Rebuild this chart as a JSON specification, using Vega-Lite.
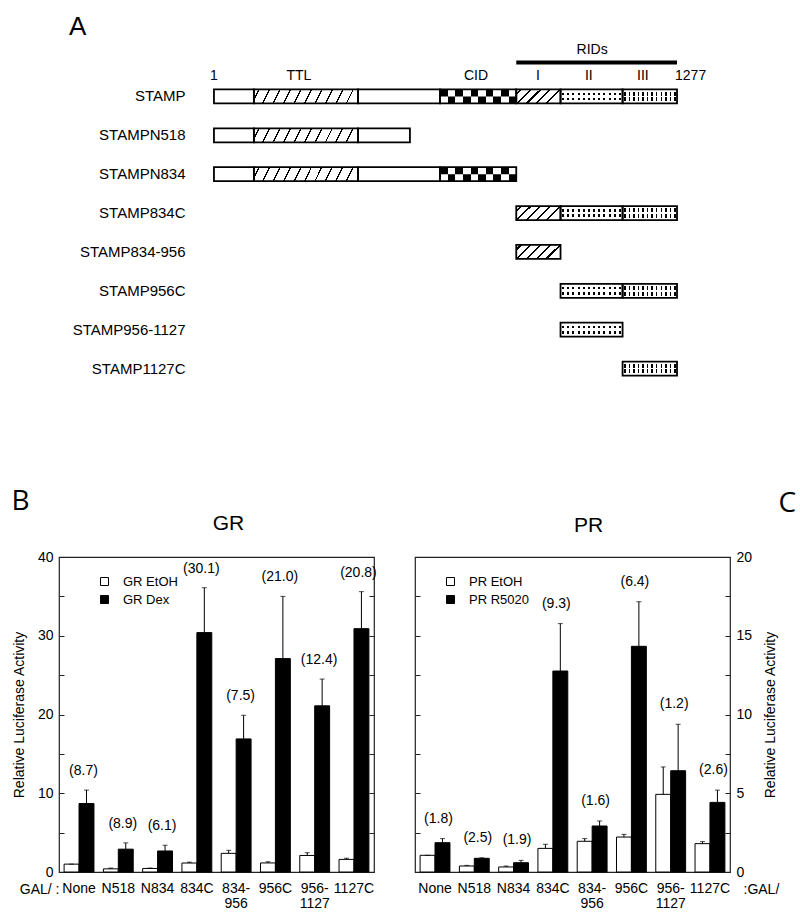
{
  "$schema": "https://vega.github.io/schema/vega-lite/v6.json",
  "padding": {"left": 10, "top": 14, "right": 5, "bottom": 5},
  "background": "white",
  "config": {
    "font": "Liberation Sans",
    "view": {"stroke": null},
    "axis": {"labelFont": "Liberation Sans", "titleFont": "Liberation Sans", "labelColor": "black", "titleColor": "black", "tickColor": "#222", "grid": false},
    "text": {"font": "Liberation Sans", "color": "black"},
    "title": {"font": "Liberation Sans", "color": "black", "fontWeight": "normal"},
    "legend": {"labelFont": "Liberation Sans", "labelColor": "black"}
  },
  "datasets": {
    "seg": [
      {"construct": "STAMP", "domain": "plain", "start": 1, "end": 111},
      {"construct": "STAMP", "domain": "TTL", "start": 111, "end": 398},
      {"construct": "STAMP", "domain": "plain", "start": 398, "end": 624},
      {"construct": "STAMP", "domain": "CID", "start": 624, "end": 834},
      {"construct": "STAMP", "domain": "RID I", "start": 834, "end": 956},
      {"construct": "STAMP", "domain": "RID II", "start": 956, "end": 1127},
      {"construct": "STAMP", "domain": "RID III", "start": 1127, "end": 1277},
      {"construct": "STAMPN518", "domain": "plain", "start": 1, "end": 111},
      {"construct": "STAMPN518", "domain": "TTL", "start": 111, "end": 398},
      {"construct": "STAMPN518", "domain": "plain", "start": 398, "end": 541},
      {"construct": "STAMPN834", "domain": "plain", "start": 1, "end": 111},
      {"construct": "STAMPN834", "domain": "TTL", "start": 111, "end": 398},
      {"construct": "STAMPN834", "domain": "plain", "start": 398, "end": 624},
      {"construct": "STAMPN834", "domain": "CID", "start": 624, "end": 834},
      {"construct": "STAMP834C", "domain": "RID I", "start": 834, "end": 956},
      {"construct": "STAMP834C", "domain": "RID II", "start": 956, "end": 1127},
      {"construct": "STAMP834C", "domain": "RID III", "start": 1127, "end": 1277},
      {"construct": "STAMP834-956", "domain": "RID I", "start": 834, "end": 956},
      {"construct": "STAMP956C", "domain": "RID II", "start": 956, "end": 1127},
      {"construct": "STAMP956C", "domain": "RID III", "start": 1127, "end": 1277},
      {"construct": "STAMP956-1127", "domain": "RID II", "start": 956, "end": 1127},
      {"construct": "STAMP1127C", "domain": "RID III", "start": 1127, "end": 1277}
    ],
    "annot": [
      {"label": "1", "aa": 1},
      {"label": "TTL", "aa": 235},
      {"label": "CID", "aa": 723},
      {"label": "I", "aa": 894},
      {"label": "II", "aa": 1034},
      {"label": "III", "aa": 1183},
      {"label": "1277", "aa": 1277}
    ],
    "rids": [{"label": "RIDs", "start": 834, "end": 1277, "aa": 1043}],
    "gr": [
      {"group": "None", "treat": "GR EtOH", "value": 1.0, "upper": 1.0},
      {"group": "None", "treat": "GR Dex", "value": 8.7, "upper": 10.4, "fold": "(8.7)"},
      {"group": "N518", "treat": "GR EtOH", "value": 0.4, "upper": 0.5},
      {"group": "N518", "treat": "GR Dex", "value": 2.9, "upper": 3.7, "fold": "(8.9)"},
      {"group": "N834", "treat": "GR EtOH", "value": 0.45, "upper": 0.5},
      {"group": "N834", "treat": "GR Dex", "value": 2.67, "upper": 3.4, "fold": "(6.1)"},
      {"group": "834C", "treat": "GR EtOH", "value": 1.14, "upper": 1.25},
      {"group": "834C", "treat": "GR Dex", "value": 30.4, "upper": 36.1, "fold": "(30.1)"},
      {"group": "834-956", "treat": "GR EtOH", "value": 2.37, "upper": 2.75},
      {"group": "834-956", "treat": "GR Dex", "value": 16.9, "upper": 19.9, "fold": "(7.5)"},
      {"group": "956C", "treat": "GR EtOH", "value": 1.15, "upper": 1.3},
      {"group": "956C", "treat": "GR Dex", "value": 27.1, "upper": 35.0, "fold": "(21.0)"},
      {"group": "956-1127", "treat": "GR EtOH", "value": 2.1, "upper": 2.45},
      {"group": "956-1127", "treat": "GR Dex", "value": 21.1, "upper": 24.5, "fold": "(12.4)"},
      {"group": "1127C", "treat": "GR EtOH", "value": 1.6, "upper": 1.75},
      {"group": "1127C", "treat": "GR Dex", "value": 30.9, "upper": 35.6, "fold": "(20.8)"}
    ],
    "pr": [
      {"group": "None", "treat": "PR EtOH", "value": 1.06, "upper": 1.06},
      {"group": "None", "treat": "PR R5020", "value": 1.86, "upper": 2.12, "fold": "(1.8)"},
      {"group": "N518", "treat": "PR EtOH", "value": 0.38, "upper": 0.42},
      {"group": "N518", "treat": "PR R5020", "value": 0.87, "upper": 0.9, "fold": "(2.5)"},
      {"group": "N834", "treat": "PR EtOH", "value": 0.32, "upper": 0.38},
      {"group": "N834", "treat": "PR R5020", "value": 0.59, "upper": 0.74, "fold": "(1.9)"},
      {"group": "834C", "treat": "PR EtOH", "value": 1.5, "upper": 1.76},
      {"group": "834C", "treat": "PR R5020", "value": 12.76, "upper": 15.77, "fold": "(9.3)"},
      {"group": "834-956", "treat": "PR EtOH", "value": 1.95, "upper": 2.12},
      {"group": "834-956", "treat": "PR R5020", "value": 2.92, "upper": 3.24, "fold": "(1.6)"},
      {"group": "956C", "treat": "PR EtOH", "value": 2.22, "upper": 2.39},
      {"group": "956C", "treat": "PR R5020", "value": 14.33, "upper": 17.16, "fold": "(6.4)"},
      {"group": "956-1127", "treat": "PR EtOH", "value": 4.93, "upper": 6.67},
      {"group": "956-1127", "treat": "PR R5020", "value": 6.43, "upper": 9.38, "fold": "(1.2)"},
      {"group": "1127C", "treat": "PR EtOH", "value": 1.8, "upper": 1.93},
      {"group": "1127C", "treat": "PR R5020", "value": 4.42, "upper": 5.2, "fold": "(2.6)"}
    ]
  },
  "spacing": 169,
  "bounds": "flush",
  "vconcat": [
    {
      "width": 671,
      "height": 311,
      "title": {"text": "A", "anchor": "start", "frame": "group", "dx": 10, "offset": -18, "fontSize": 26, "baseline": "alphabetic"},
      "data": {"name": "seg"},
      "layer": [
        {
          "mark": {"type": "bar", "fill": "white", "strokeWidth": 0},
          "encoding": {
            "x": {"field": "start", "type": "quantitative", "scale": {"domain": [-426, 1423], "nice": false, "zero": false}, "axis": null},
            "x2": {"field": "end"},
            "y": {"field": "construct", "type": "nominal", "title": null,
              "scale": {"domain": ["STAMP", "STAMPN518", "STAMPN834", "STAMP834C", "STAMP834-956", "STAMP956C", "STAMP956-1127", "STAMP1127C"], "paddingInner": 0.64, "paddingOuter": 0.32},
              "axis": {"orient": "left", "offset": -126, "domain": false, "ticks": false, "labelPadding": 0, "labelFontSize": 15, "title": null}}
          }
        },
        {
          "transform": [{"filter": "datum.domain === 'TTL'"}],
          "mark": {"type": "bar", "strokeWidth": 0, "fill": {"gradient": "linear", "x1": 0, "y1": 0, "x2": 1, "y2": 0.067, "stops": [
            {"offset": 0, "color": "white"},
            {"offset": 0.043, "color": "white"}, {"offset": 0.043, "color": "black"}, {"offset": 0.057, "color": "black"}, {"offset": 0.057, "color": "white"},
            {"offset": 0.143, "color": "white"}, {"offset": 0.143, "color": "black"}, {"offset": 0.157, "color": "black"}, {"offset": 0.157, "color": "white"},
            {"offset": 0.243, "color": "white"}, {"offset": 0.243, "color": "black"}, {"offset": 0.257, "color": "black"}, {"offset": 0.257, "color": "white"},
            {"offset": 0.343, "color": "white"}, {"offset": 0.343, "color": "black"}, {"offset": 0.357, "color": "black"}, {"offset": 0.357, "color": "white"},
            {"offset": 0.443, "color": "white"}, {"offset": 0.443, "color": "black"}, {"offset": 0.457, "color": "black"}, {"offset": 0.457, "color": "white"},
            {"offset": 0.543, "color": "white"}, {"offset": 0.543, "color": "black"}, {"offset": 0.557, "color": "black"}, {"offset": 0.557, "color": "white"},
            {"offset": 0.643, "color": "white"}, {"offset": 0.643, "color": "black"}, {"offset": 0.657, "color": "black"}, {"offset": 0.657, "color": "white"},
            {"offset": 0.743, "color": "white"}, {"offset": 0.743, "color": "black"}, {"offset": 0.757, "color": "black"}, {"offset": 0.757, "color": "white"},
            {"offset": 0.843, "color": "white"}, {"offset": 0.843, "color": "black"}, {"offset": 0.857, "color": "black"}, {"offset": 0.857, "color": "white"},
            {"offset": 0.943, "color": "white"}, {"offset": 0.943, "color": "black"}, {"offset": 0.957, "color": "black"}, {"offset": 0.957, "color": "white"},
            {"offset": 1, "color": "white"}]}},
          "encoding": {
            "x": {"field": "start", "type": "quantitative"},
            "x2": {"field": "end"},
            "y": {"field": "construct", "type": "nominal"}
          }
        },
        {
          "transform": [{"filter": "datum.domain === 'CID'"}],
          "mark": {"type": "bar", "strokeWidth": 0, "fill": {"gradient": "linear", "x1": 0, "y1": 0, "x2": 1, "y2": 0, "stops": [
            {"offset": 0, "color": "black"}, {"offset": 0.1, "color": "black"}, {"offset": 0.1, "color": "white"}, {"offset": 0.2, "color": "white"},
            {"offset": 0.2, "color": "black"}, {"offset": 0.3, "color": "black"}, {"offset": 0.3, "color": "white"}, {"offset": 0.4, "color": "white"},
            {"offset": 0.4, "color": "black"}, {"offset": 0.5, "color": "black"}, {"offset": 0.5, "color": "white"}, {"offset": 0.6, "color": "white"},
            {"offset": 0.6, "color": "black"}, {"offset": 0.7, "color": "black"}, {"offset": 0.7, "color": "white"}, {"offset": 0.8, "color": "white"},
            {"offset": 0.8, "color": "black"}, {"offset": 0.9, "color": "black"}, {"offset": 0.9, "color": "white"}, {"offset": 1, "color": "white"}]}},
          "encoding": {
            "x": {"field": "start", "type": "quantitative"},
            "x2": {"field": "end"},
            "y": {"field": "construct", "type": "nominal"}
          }
        },
        {
          "transform": [{"filter": "datum.domain === 'CID'"}],
          "mark": {"type": "bar", "strokeWidth": 0, "height": {"band": 0.5}, "yOffset": 3.5, "fill": {"gradient": "linear", "x1": 0, "y1": 0, "x2": 1, "y2": 0, "stops": [
            {"offset": 0, "color": "white"}, {"offset": 0.1, "color": "white"}, {"offset": 0.1, "color": "black"}, {"offset": 0.2, "color": "black"},
            {"offset": 0.2, "color": "white"}, {"offset": 0.3, "color": "white"}, {"offset": 0.3, "color": "black"}, {"offset": 0.4, "color": "black"},
            {"offset": 0.4, "color": "white"}, {"offset": 0.5, "color": "white"}, {"offset": 0.5, "color": "black"}, {"offset": 0.6, "color": "black"},
            {"offset": 0.6, "color": "white"}, {"offset": 0.7, "color": "white"}, {"offset": 0.7, "color": "black"}, {"offset": 0.8, "color": "black"},
            {"offset": 0.8, "color": "white"}, {"offset": 0.9, "color": "white"}, {"offset": 0.9, "color": "black"}, {"offset": 1, "color": "black"}]}},
          "encoding": {
            "x": {"field": "start", "type": "quantitative"},
            "x2": {"field": "end"},
            "y": {"field": "construct", "type": "nominal"}
          }
        },
        {
          "transform": [{"filter": "datum.domain === 'RID I'"}],
          "mark": {"type": "bar", "strokeWidth": 0, "fill": {"gradient": "linear", "x1": 0, "y1": 0, "x2": 1, "y2": 0.32, "stops": [
            {"offset": 0, "color": "white"},
            {"offset": 0.078, "color": "white"}, {"offset": 0.078, "color": "black"}, {"offset": 0.122, "color": "black"}, {"offset": 0.122, "color": "white"},
            {"offset": 0.278, "color": "white"}, {"offset": 0.278, "color": "black"}, {"offset": 0.322, "color": "black"}, {"offset": 0.322, "color": "white"},
            {"offset": 0.478, "color": "white"}, {"offset": 0.478, "color": "black"}, {"offset": 0.522, "color": "black"}, {"offset": 0.522, "color": "white"},
            {"offset": 0.678, "color": "white"}, {"offset": 0.678, "color": "black"}, {"offset": 0.722, "color": "black"}, {"offset": 0.722, "color": "white"},
            {"offset": 0.878, "color": "white"}, {"offset": 0.878, "color": "black"}, {"offset": 0.922, "color": "black"}, {"offset": 0.922, "color": "white"},
            {"offset": 1, "color": "white"}]}},
          "encoding": {
            "x": {"field": "start", "type": "quantitative"},
            "x2": {"field": "end"},
            "y": {"field": "construct", "type": "nominal"}
          }
        },
        {
          "transform": [{"filter": "datum.domain === 'RID II'"}],
          "mark": {"type": "bar", "strokeWidth": 0, "fill": {"gradient": "linear", "x1": 0, "y1": 0, "x2": 1, "y2": 0, "stops": [
            {"offset": 0, "color": "white"},
            {"offset": 0.025, "color": "white"}, {"offset": 0.025, "color": "black"}, {"offset": 0.057, "color": "black"}, {"offset": 0.057, "color": "white"},
            {"offset": 0.108, "color": "white"}, {"offset": 0.108, "color": "black"}, {"offset": 0.14, "color": "black"}, {"offset": 0.14, "color": "white"},
            {"offset": 0.192, "color": "white"}, {"offset": 0.192, "color": "black"}, {"offset": 0.224, "color": "black"}, {"offset": 0.224, "color": "white"},
            {"offset": 0.275, "color": "white"}, {"offset": 0.275, "color": "black"}, {"offset": 0.307, "color": "black"}, {"offset": 0.307, "color": "white"},
            {"offset": 0.358, "color": "white"}, {"offset": 0.358, "color": "black"}, {"offset": 0.39, "color": "black"}, {"offset": 0.39, "color": "white"},
            {"offset": 0.442, "color": "white"}, {"offset": 0.442, "color": "black"}, {"offset": 0.474, "color": "black"}, {"offset": 0.474, "color": "white"},
            {"offset": 0.525, "color": "white"}, {"offset": 0.525, "color": "black"}, {"offset": 0.557, "color": "black"}, {"offset": 0.557, "color": "white"},
            {"offset": 0.608, "color": "white"}, {"offset": 0.608, "color": "black"}, {"offset": 0.64, "color": "black"}, {"offset": 0.64, "color": "white"},
            {"offset": 0.692, "color": "white"}, {"offset": 0.692, "color": "black"}, {"offset": 0.724, "color": "black"}, {"offset": 0.724, "color": "white"},
            {"offset": 0.775, "color": "white"}, {"offset": 0.775, "color": "black"}, {"offset": 0.807, "color": "black"}, {"offset": 0.807, "color": "white"},
            {"offset": 0.858, "color": "white"}, {"offset": 0.858, "color": "black"}, {"offset": 0.89, "color": "black"}, {"offset": 0.89, "color": "white"},
            {"offset": 0.942, "color": "white"}, {"offset": 0.942, "color": "black"}, {"offset": 0.974, "color": "black"}, {"offset": 0.974, "color": "white"},
            {"offset": 1, "color": "white"}]}},
          "encoding": {
            "x": {"field": "start", "type": "quantitative"},
            "x2": {"field": "end"},
            "y": {"field": "construct", "type": "nominal"}
          }
        },
        {
          "transform": [{"filter": "datum.domain === 'RID II'"}],
          "mark": {"type": "bar", "strokeWidth": 0, "fill": {"gradient": "linear", "x1": 0, "y1": 0, "x2": 0, "y2": 1, "stops": [
            {"offset": 0, "color": "white"}, {"offset": 0.22, "color": "white"}, {"offset": 0.22, "color": "rgba(255,255,255,0)"}, {"offset": 0.4, "color": "rgba(255,255,255,0)"},
            {"offset": 0.4, "color": "white"}, {"offset": 0.6, "color": "white"}, {"offset": 0.6, "color": "rgba(255,255,255,0)"}, {"offset": 0.78, "color": "rgba(255,255,255,0)"},
            {"offset": 0.78, "color": "white"}, {"offset": 1, "color": "white"}]}},
          "encoding": {
            "x": {"field": "start", "type": "quantitative"},
            "x2": {"field": "end"},
            "y": {"field": "construct", "type": "nominal"}
          }
        },
        {
          "transform": [{"filter": "datum.domain === 'RID III'"}],
          "mark": {"type": "bar", "strokeWidth": 0, "fill": {"gradient": "linear", "x1": 0, "y1": 0, "x2": 1, "y2": 0, "stops": [
            {"offset": 0, "color": "white"},
            {"offset": 0.03, "color": "white"}, {"offset": 0.03, "color": "black"}, {"offset": 0.058, "color": "black"}, {"offset": 0.058, "color": "white"},
            {"offset": 0.113, "color": "white"}, {"offset": 0.113, "color": "black"}, {"offset": 0.141, "color": "black"}, {"offset": 0.141, "color": "white"},
            {"offset": 0.197, "color": "white"}, {"offset": 0.197, "color": "black"}, {"offset": 0.225, "color": "black"}, {"offset": 0.225, "color": "white"},
            {"offset": 0.28, "color": "white"}, {"offset": 0.28, "color": "black"}, {"offset": 0.308, "color": "black"}, {"offset": 0.308, "color": "white"},
            {"offset": 0.363, "color": "white"}, {"offset": 0.363, "color": "black"}, {"offset": 0.391, "color": "black"}, {"offset": 0.391, "color": "white"},
            {"offset": 0.447, "color": "white"}, {"offset": 0.447, "color": "black"}, {"offset": 0.475, "color": "black"}, {"offset": 0.475, "color": "white"},
            {"offset": 0.53, "color": "white"}, {"offset": 0.53, "color": "black"}, {"offset": 0.558, "color": "black"}, {"offset": 0.558, "color": "white"},
            {"offset": 0.613, "color": "white"}, {"offset": 0.613, "color": "black"}, {"offset": 0.641, "color": "black"}, {"offset": 0.641, "color": "white"},
            {"offset": 0.697, "color": "white"}, {"offset": 0.697, "color": "black"}, {"offset": 0.725, "color": "black"}, {"offset": 0.725, "color": "white"},
            {"offset": 0.78, "color": "white"}, {"offset": 0.78, "color": "black"}, {"offset": 0.808, "color": "black"}, {"offset": 0.808, "color": "white"},
            {"offset": 0.863, "color": "white"}, {"offset": 0.863, "color": "black"}, {"offset": 0.891, "color": "black"}, {"offset": 0.891, "color": "white"},
            {"offset": 0.947, "color": "white"}, {"offset": 0.947, "color": "black"}, {"offset": 0.975, "color": "black"}, {"offset": 0.975, "color": "white"},
            {"offset": 1, "color": "white"}]}},
          "encoding": {
            "x": {"field": "start", "type": "quantitative"},
            "x2": {"field": "end"},
            "y": {"field": "construct", "type": "nominal"}
          }
        },
        {
          "transform": [{"filter": "datum.domain === 'RID III'"}],
          "mark": {"type": "bar", "strokeWidth": 0, "fill": {"gradient": "linear", "x1": 0, "y1": 0, "x2": 0, "y2": 1, "stops": [
            {"offset": 0, "color": "white"}, {"offset": 0.15, "color": "white"}, {"offset": 0.15, "color": "rgba(255,255,255,0)"}, {"offset": 0.45, "color": "rgba(255,255,255,0)"},
            {"offset": 0.45, "color": "white"}, {"offset": 0.55, "color": "white"}, {"offset": 0.55, "color": "rgba(255,255,255,0)"}, {"offset": 0.85, "color": "rgba(255,255,255,0)"},
            {"offset": 0.85, "color": "white"}, {"offset": 1, "color": "white"}]}},
          "encoding": {
            "x": {"field": "start", "type": "quantitative"},
            "x2": {"field": "end"},
            "y": {"field": "construct", "type": "nominal"}
          }
        },
        {
          "mark": {"type": "bar", "fill": "white", "fillOpacity": 0, "stroke": "black", "strokeWidth": 1.8},
          "encoding": {
            "x": {"field": "start", "type": "quantitative"},
            "x2": {"field": "end"},
            "y": {"field": "construct", "type": "nominal"}
          }
        },
        {
          "data": {"name": "annot"},
          "transform": [{"filter": "datum.label !== '1277'"}],
          "mark": {"type": "text", "align": "center", "baseline": "middle", "dy": -20, "fontSize": 14},
          "encoding": {
            "x": {"field": "aa", "type": "quantitative"},
            "y": {"datum": "STAMP", "type": "nominal"},
            "text": {"field": "label"}
          }
        },
        {
          "data": {"name": "annot"},
          "transform": [{"filter": "datum.label === '1277'"}],
          "mark": {"type": "text", "align": "left", "baseline": "middle", "dy": -20, "dx": -2, "fontSize": 14},
          "encoding": {
            "x": {"field": "aa", "type": "quantitative"},
            "y": {"datum": "STAMP", "type": "nominal"},
            "text": {"field": "label"}
          }
        },
        {
          "data": {"name": "rids"},
          "mark": {"type": "rule", "strokeWidth": 4, "color": "black", "yOffset": -34},
          "encoding": {
            "x": {"field": "start", "type": "quantitative"},
            "x2": {"field": "end"},
            "y": {"datum": "STAMP", "type": "nominal"}
          }
        },
        {
          "data": {"name": "rids"},
          "mark": {"type": "text", "align": "center", "baseline": "middle", "dy": -46, "fontSize": 14},
          "encoding": {
            "x": {"field": "aa", "type": "quantitative"},
            "y": {"datum": "STAMP", "type": "nominal"},
            "text": {"field": "label"}
          }
        }
      ]
    },
    {
      "hconcat": [
        {
          "width": 315,
          "height": 315,
          "view": {"stroke": "#222", "strokeWidth": 1.2},
          "title": {"text": "GR", "fontSize": 21, "offset": -47, "dx": 12},
          "data": {"name": "gr"},
          "encoding": {
            "xOffset": {"field": "treat", "type": "nominal", "sort": ["GR EtOH", "GR Dex"], "scale": {"paddingInner": 0, "paddingOuter": 0}}
          },
          "layer": [
            {
              "mark": {"type": "bar", "stroke": "black", "strokeWidth": 1},
              "encoding": {
                "x": {"field": "group", "type": "nominal", "sort": ["None", "N518", "N834", "834C", "834-956", "956C", "956-1127", "1127C"],
                  "scale": {"paddingInner": 0.24, "paddingOuter": 0.13},
                  "axis": {"orient": "bottom", "labelAngle": 0, "ticks": false, "domain": false, "labelFontSize": 14, "labelPadding": 9, "labelLineHeight": 15,
                    "labelExpr": "indexof(datum.label, '-') > 0 ? [slice(datum.label, 0, indexof(datum.label, '-') + 1), slice(datum.label, indexof(datum.label, '-') + 1)] : datum.label",
                    "title": "GAL/ :", "titleX": 0, "titleY": 10, "titleAlign": "right", "titleAnchor": null, "titleBaseline": "top", "titleFontSize": 14, "titleFontWeight": "normal"}},
                "y": {"field": "value", "type": "quantitative", "scale": {"domain": [0, 40], "nice": false},
                  "axis": {"orient": "left", "values": [0, 5, 10, 15, 20, 25, 30, 35, 40], "labelExpr": "datum.value % 10 === 0 ? datum.label : ''",
                    "tickSize": -5, "domain": false, "labelFontSize": 14, "labelPadding": 11,
                    "title": "Relative Luciferase Activity", "titleFontSize": 14, "titleFontWeight": "normal", "titlePadding": 11}},
                "fill": {"field": "treat", "type": "nominal", "sort": ["GR EtOH", "GR Dex"],
                  "scale": {"domain": ["GR EtOH", "GR Dex"], "range": ["white", "black"]},
                  "legend": {"title": null, "orient": "none", "legendX": 39, "legendY": 18, "symbolType": "square", "symbolSize": 64,
                    "symbolStrokeColor": "black", "symbolStrokeWidth": 1, "labelFontSize": 13, "labelOffset": 12, "rowPadding": 4, "padding": 0}}
              }
            },
            {
              "mark": {"type": "rule", "color": "black", "strokeWidth": 1},
              "encoding": {
                "x": {"field": "group", "type": "nominal", "sort": ["None", "N518", "N834", "834C", "834-956", "956C", "956-1127", "1127C"], "axis": null},
                "y": {"field": "value", "type": "quantitative", "axis": null},
                "y2": {"field": "upper"}
              }
            },
            {
              "mark": {"type": "tick", "color": "black", "thickness": 1, "size": 5},
              "encoding": {
                "x": {"field": "group", "type": "nominal", "sort": ["None", "N518", "N834", "834C", "834-956", "956C", "956-1127", "1127C"], "axis": null},
                "y": {"field": "upper", "type": "quantitative",
                  "axis": {"orient": "right", "values": [0, 5, 10, 15, 20, 25, 30, 35, 40], "labels": false, "tickSize": -5, "domain": false, "title": null}}
              }
            },
            {
              "transform": [{"filter": "isValid(datum.fold)"}],
              "mark": {"type": "text", "baseline": "middle", "align": "center", "dy": -19, "dx": -3, "fontSize": 14},
              "encoding": {
                "x": {"field": "group", "type": "nominal", "sort": ["None", "N518", "N834", "834C", "834-956", "956C", "956-1127", "1127C"],
                  "axis": {"orient": "top", "labels": false, "ticks": false, "domain": false, "title": "B", "titleX": -48, "titleY": -56,
                    "titleAlign": "left", "titleAnchor": null, "titleBaseline": "middle", "titleFontSize": 28, "titleFont": "Open Sans", "titleFontWeight": "normal"}},
                "y": {"field": "upper", "type": "quantitative", "axis": null},
                "text": {"field": "fold"}
              }
            }
          ],
          "resolve": {"axis": {"x": "independent", "y": "independent"}}
        },
        {
          "width": 315,
          "height": 315,
          "view": {"stroke": "#222", "strokeWidth": 1.2},
          "title": {"text": "PR", "fontSize": 21, "offset": -47, "dx": 16},
          "data": {"name": "pr"},
          "encoding": {
            "xOffset": {"field": "treat", "type": "nominal", "sort": ["PR EtOH", "PR R5020"], "scale": {"paddingInner": 0, "paddingOuter": 0}}
          },
          "layer": [
            {
              "mark": {"type": "bar", "stroke": "black", "strokeWidth": 1},
              "encoding": {
                "x": {"field": "group", "type": "nominal", "sort": ["None", "N518", "N834", "834C", "834-956", "956C", "956-1127", "1127C"],
                  "scale": {"paddingInner": 0.24, "paddingOuter": 0.13},
                  "axis": {"orient": "bottom", "labelAngle": 0, "ticks": false, "domain": false, "labelFontSize": 14, "labelPadding": 9, "labelLineHeight": 15,
                    "labelExpr": "indexof(datum.label, '-') > 0 ? [slice(datum.label, 0, indexof(datum.label, '-') + 1), slice(datum.label, indexof(datum.label, '-') + 1)] : datum.label",
                    "title": ":GAL/", "titleX": 328, "titleY": 10, "titleAlign": "left", "titleAnchor": null, "titleBaseline": "top", "titleFontSize": 14, "titleFontWeight": "normal"}},
                "y": {"field": "value", "type": "quantitative", "scale": {"domain": [0, 20], "nice": false},
                  "axis": {"orient": "right", "values": [0, 2.5, 5, 7.5, 10, 12.5, 15, 17.5, 20], "labelExpr": "datum.value % 5 === 0 ? datum.label : ''",
                    "tickSize": -5, "domain": false, "labelFontSize": 14, "labelPadding": 11,
                    "title": "Relative Luciferase Activity", "titleAngle": 270, "titleBaseline": "top", "titleFontSize": 14, "titleFontWeight": "normal", "titlePadding": 12}},
                "fill": {"field": "treat", "type": "nominal", "sort": ["PR EtOH", "PR R5020"],
                  "scale": {"domain": ["PR EtOH", "PR R5020"], "range": ["white", "black"]},
                  "legend": {"title": null, "orient": "none", "legendX": 29, "legendY": 18, "symbolType": "square", "symbolSize": 64,
                    "symbolStrokeColor": "black", "symbolStrokeWidth": 1, "labelFontSize": 13, "labelOffset": 12, "rowPadding": 4, "padding": 0}}
              }
            },
            {
              "mark": {"type": "rule", "color": "black", "strokeWidth": 1},
              "encoding": {
                "x": {"field": "group", "type": "nominal", "sort": ["None", "N518", "N834", "834C", "834-956", "956C", "956-1127", "1127C"], "axis": null},
                "y": {"field": "value", "type": "quantitative", "axis": null},
                "y2": {"field": "upper"}
              }
            },
            {
              "mark": {"type": "tick", "color": "black", "thickness": 1, "size": 5},
              "encoding": {
                "x": {"field": "group", "type": "nominal", "sort": ["None", "N518", "N834", "834C", "834-956", "956C", "956-1127", "1127C"], "axis": null},
                "y": {"field": "upper", "type": "quantitative",
                  "axis": {"orient": "left", "values": [0, 2.5, 5, 7.5, 10, 12.5, 15, 17.5, 20], "labels": false, "tickSize": -5, "domain": false, "title": null}}
              }
            },
            {
              "transform": [{"filter": "isValid(datum.fold)"}],
              "mark": {"type": "text", "baseline": "middle", "align": "center", "dy": -20, "dx": -4, "fontSize": 14},
              "encoding": {
                "x": {"field": "group", "type": "nominal", "sort": ["None", "N518", "N834", "834C", "834-956", "956C", "956-1127", "1127C"],
                  "axis": {"orient": "top", "labels": false, "ticks": false, "domain": false, "title": "C", "titleX": 363, "titleY": -54,
                    "titleAlign": "left", "titleAnchor": null, "titleBaseline": "middle", "titleFontSize": 28, "titleFont": "Open Sans", "titleFontWeight": "normal"}},
                "y": {"field": "upper", "type": "quantitative", "axis": null},
                "text": {"field": "fold"}
              }
            }
          ],
          "resolve": {"axis": {"x": "independent", "y": "independent"}}
        }
      ],
      "spacing": 41,
      "bounds": "flush",
      "resolve": {"scale": {"fill": "independent", "x": "independent", "y": "independent", "xOffset": "independent"}, "legend": {"fill": "independent"}}
    }
  ]
}
